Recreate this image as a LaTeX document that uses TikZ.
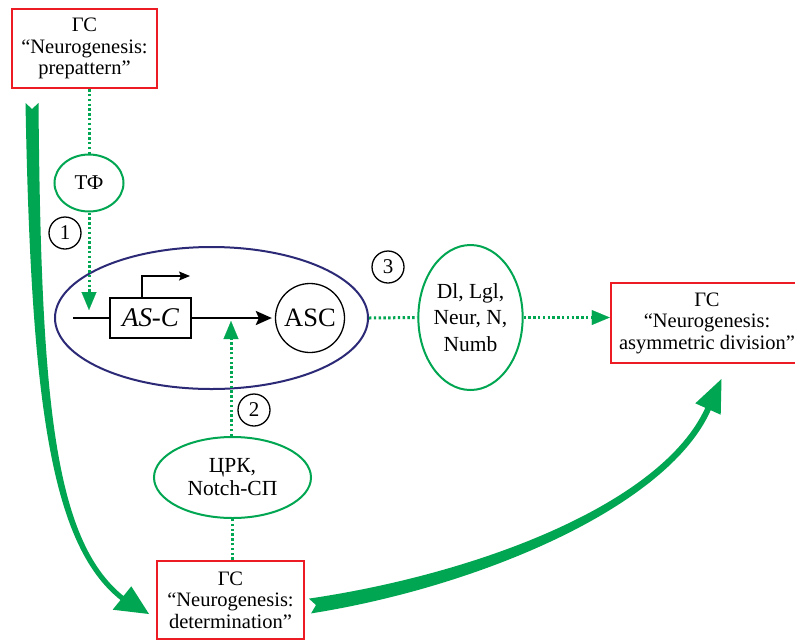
\documentclass[tikz,border=0pt]{standalone}
\usepackage{fontspec}
\setmainfont{LiberationSerif}[Extension=.ttf, UprightFont=*-Regular, ItalicFont=*-Italic, BoldFont=*-Bold, BoldItalicFont=*-BoldItalic]
\usetikzlibrary{arrows.meta,shapes.geometric,calc}
\definecolor{gr}{RGB}{0,166,81}
\definecolor{rd}{RGB}{237,28,36}
\definecolor{nv}{RGB}{44,42,118}
\tikzset{
  gsbox/.style={draw=rd, line width=2.5pt, inner sep=0pt, align=center,
    font=\fontsize{20.5}{21.5}\selectfont},
  gell/.style={draw=gr, line width=2pt, ellipse, inner sep=0pt, align=center},
  dotl/.style={gr, line width=3pt, dash pattern=on 2.4pt off 2.4pt},
  dotarr/.style={dotl, -{Triangle[length=18pt,width=15pt,line width=0.1pt]}},
  numc/.style={draw=black, line width=1.3pt, circle, minimum size=32pt, inner sep=0pt,
    font=\fontsize{21}{21}\selectfont},
  bigarrow/.style={fill=gr, draw=none}
}
\begin{document}
\begin{tikzpicture}[x=1pt,y=-1pt]
\clip (0,0) rectangle (795,641);
\fill[white] (0,0) rectangle (795,641);

% big tapered arrows
\fill[bigarrow] (25.5,103) -- (32,109) -- (38.5,103)
  .. controls (41,400) and (53.9,539.7) .. (123.5,596)
  -- (131.3,586.3) -- (149,614) -- (112.7,609.7) -- (120.5,600)
  .. controls (50.1,544.3) and (31,400) .. cycle;
\fill[bigarrow] (308.9,598.6) -- (316,605) -- (311.1,613.4)
  .. controls (481,586.4) and (668.2,506.4) .. (710.7,410.2)
  -- (720.7,414.7) -- (721.5,379) -- (695.3,403.3) -- (705.3,407.8)
  .. controls (661.8,503.6) and (479,573.6) .. cycle;

% boxes
\node[gsbox, minimum width=145pt, minimum height=79pt] (pp) at (84.5,48.5)
  {ГС\\“Neurogenesis:\\prepattern”};
\node[gsbox, minimum width=147pt, minimum height=78pt] (det) at (230.5,600)
  {ГС\\“Neurogenesis:\\determination”};
\node[gsbox, minimum width=192pt, minimum height=80pt] (asym) at (707,323)
  {ГС\\“Neurogenesis:\\asymmetric division”};

% ellipses
\node[gell, minimum width=69pt, minimum height=57pt, font=\fontsize{21}{21}\selectfont] (tf) at (89,183) {ТФ};
\node[gell, minimum width=157pt, minimum height=81pt, font=\fontsize{21.5}{23}\selectfont] (crk) at (232.5,477.5) {ЦРК,\\Notch-СП};
\node[gell, minimum width=97pt, minimum height=145pt, font=\fontsize{21.5}{26.5}\selectfont] (e3) at (470.5,317.5) {Dl, Lgl,\\Neur, N,\\Numb};
\node[draw=nv, line width=2pt, ellipse, minimum width=313pt, minimum height=142pt] (cell) at (211.5,318) {};

% numbered circles
\node[numc] (c1) at (65,233) {1};
\node[numc] (c2) at (254,410) {2};
\node[numc] (c3) at (388,267) {3};

% gene and product
\node[draw=black, line width=1.3pt, minimum width=81pt, minimum height=40pt, inner sep=0pt,
  font=\fontsize{27}{27}\selectfont] (gene) at (150.5,318) {\itshape AS\upshape-\itshape C};
\node[draw=black, line width=1.3pt, circle, minimum size=69pt, inner sep=0pt,
  font=\fontsize{26.5}{26.5}\selectfont] (asc) at (310,318) {ASC};
\coordinate (lstart) at (73,318);
\draw[line width=2.5pt] (lstart) -- (gene.west);
\draw[line width=2.5pt, -{Stealth[length=16pt,width=14pt,inset=3pt]}, shorten >=3pt] (gene.east) -- (asc.west);
\coordinate (prom) at (142,298);
\coordinate (promtip) at (190,276);
\draw[line width=1.2pt, -{Stealth[length=11pt,width=9pt,inset=2pt]}] (prom) -- (prom |- promtip) -- (promtip);

% dotted connectors
\coordinate (tip1) at (89,310);
\coordinate (tip2) at (231,321);
\draw[dotl] (tf.north |- pp.south) -- (tf.north);
\draw[dotarr] (tf.south) -- (tip1);
\draw[dotarr] (crk.north -| tip2) -- (tip2);
\draw[dotl] (det.north -| crk.south) -- (crk.south);
\draw[dotl] (cell.east) -- (e3.west);
\draw[dotarr] (e3.east) -- (e3.east -| asym.west);
\end{tikzpicture}
\end{document}
